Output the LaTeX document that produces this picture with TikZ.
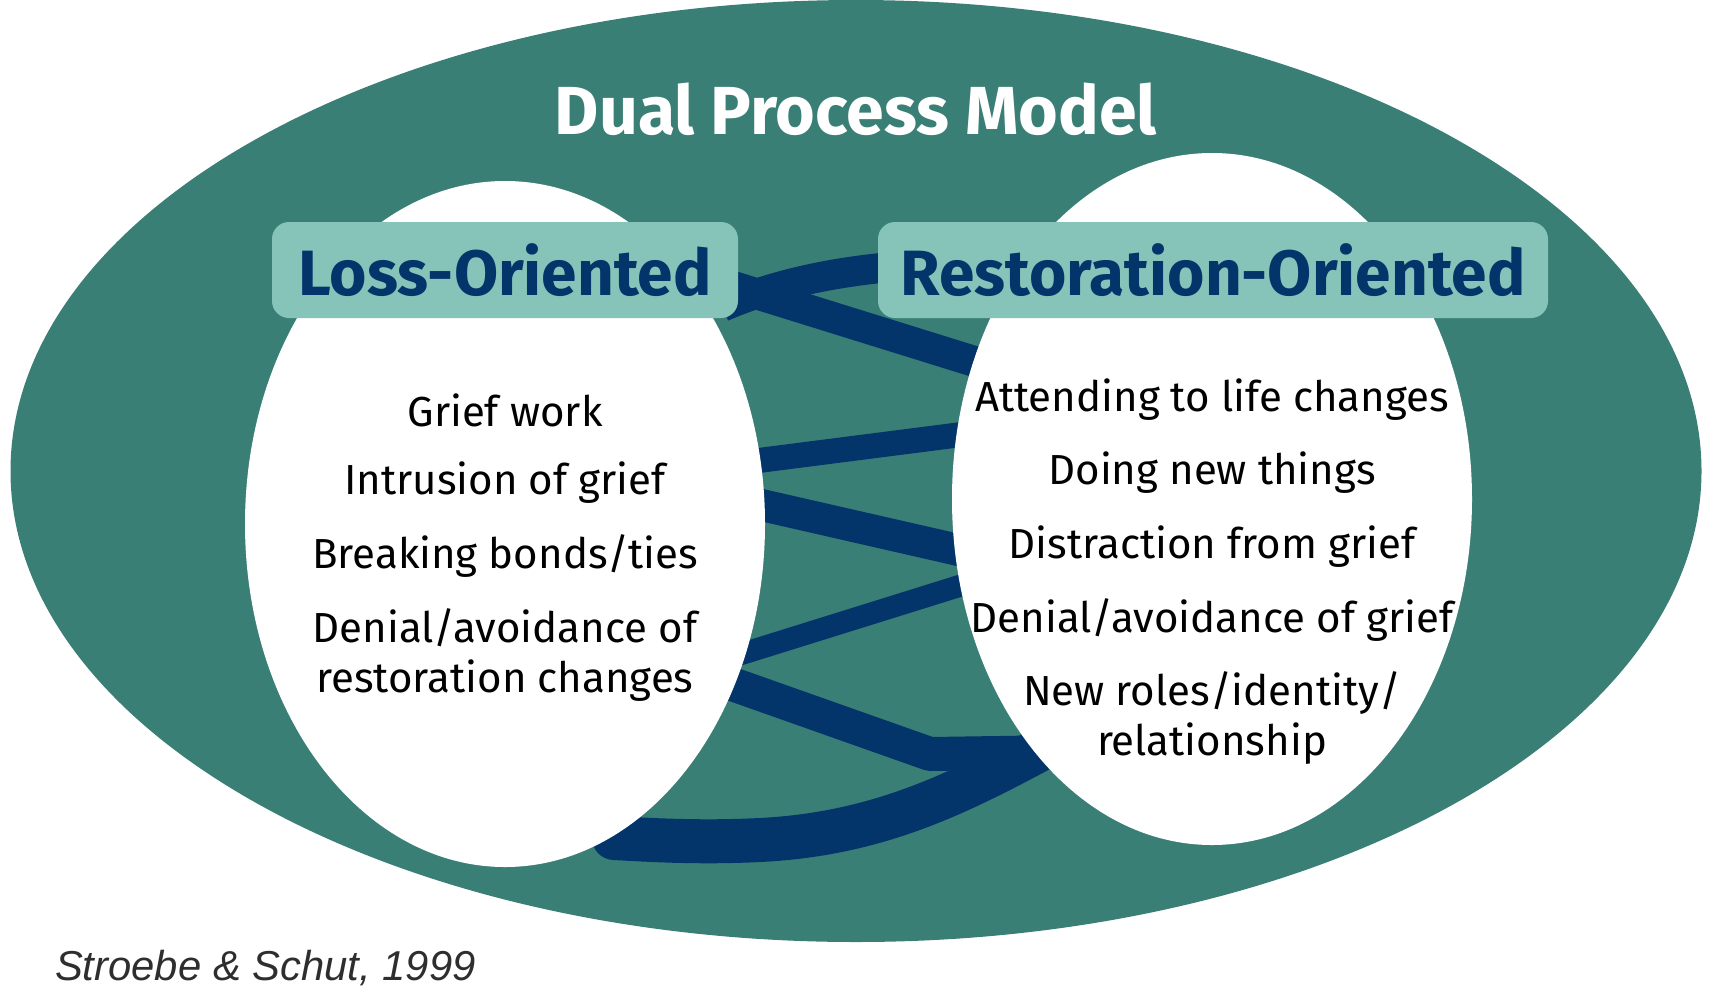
\documentclass[tikz,border=0pt]{standalone}
\usepackage{fontspec}
\setmainfont{Fira Sans}
\newfontfamily\citefont{Liberation Sans}
\usetikzlibrary{shapes.geometric,backgrounds}
\definecolor{deepteal}{HTML}{3A7F75}
\definecolor{mint}{HTML}{86C4B9}
\definecolor{navy}{HTML}{03346A}
\definecolor{slate}{HTML}{2E2E2E}

\begin{document}
\begin{tikzpicture}[x=0.5pt,y=-0.5pt,
  pool/.style={ellipse,fill=white,inner sep=0pt,minimum width=260pt},
  tag/.style={fill=mint,rounded corners=8.5pt,minimum height=48pt,inner sep=0pt,
    text=navy,font=\fontsize{32}{34}\selectfont\bfseries},
  item/.style={align=center,font=\fontsize{21}{24.6}\selectfont},
  band/.style={draw=navy,line cap=butt,shorten <=-6pt,shorten >=-6pt}]
  \useasboundingbox (0,0) rectangle (1714,992);

  % the two sides
  \node[pool,minimum height=343pt] (loss) at (505,524) {};
  \node[pool,minimum height=346pt] (resto) at (1212,499) {};
  \node[tag,minimum width=233pt] (losslbl) at (505,270) {Loss-Oriented};
  \node[tag,minimum width=335pt] (restolbl) at (1213,270) {Restoration-Oriented};
  \node[font=\fontsize{34}{36}\selectfont\bfseries,text=white] (title) at (856,109) {Dual Process Model};

  \foreach \y/\txt [count=\i] in {410/Grief work, 483/Intrusion of grief,
    556/{Breaking bonds/ties}, 655/{Denial/avoidance of\\restoration changes}}
    \node[item] (l\i) at (505,\y) {\txt};
  \foreach \y/\txt [count=\i] in {400/Attending to life changes, 473/Doing new things,
    547/Distraction from grief, 620/{Denial/avoidance of grief},
    718/{New roles/identity/\\relationship}}
    \node[item] (r\i) at (1212,\y) {\txt};

  \node[anchor=west,font=\citefont\itshape\fontsize{20.9}{24}\selectfont,text=slate] (cite) at (48,968) {Stroebe \& Schut, 1999};

  \coordinate (apex) at (930,754);
  \coordinate (bend) at (760,840);
  \coordinate (tip) at (614,838);

  \begin{scope}[on background layer]
    \fill[deepteal] (856,471) ellipse [x radius=422.75pt, y radius=235.5pt];
    % oscillation
    \draw[band,line width=15pt] ([shift={(-5,32)}]losslbl.east) .. controls +(40,-17) and +(-60,5) .. ([shift={(12,-3)}]restolbl.west);
    \draw[band,line width=15.5pt] ([shift={(-10,15)}]losslbl.east) -- (resto.150);
    \draw[band,line width=12.5pt] (loss.14) -- (resto.166);
    \draw[band,line width=16pt] (loss.4) -- (resto.191);
    \draw[band,line width=11pt] (resto.199) -- (loss.332);
    \draw[band,line width=17pt,line join=round] (loss.325) -- (apex) -- (resto.235);
    \draw[band,line width=22pt,line cap=round,shorten >=0pt] (resto.235) .. controls (960,792) and (880,834) .. (bend) .. controls (700,843) and (650,840) .. (tip);
  \end{scope}
\end{tikzpicture}
\end{document}
